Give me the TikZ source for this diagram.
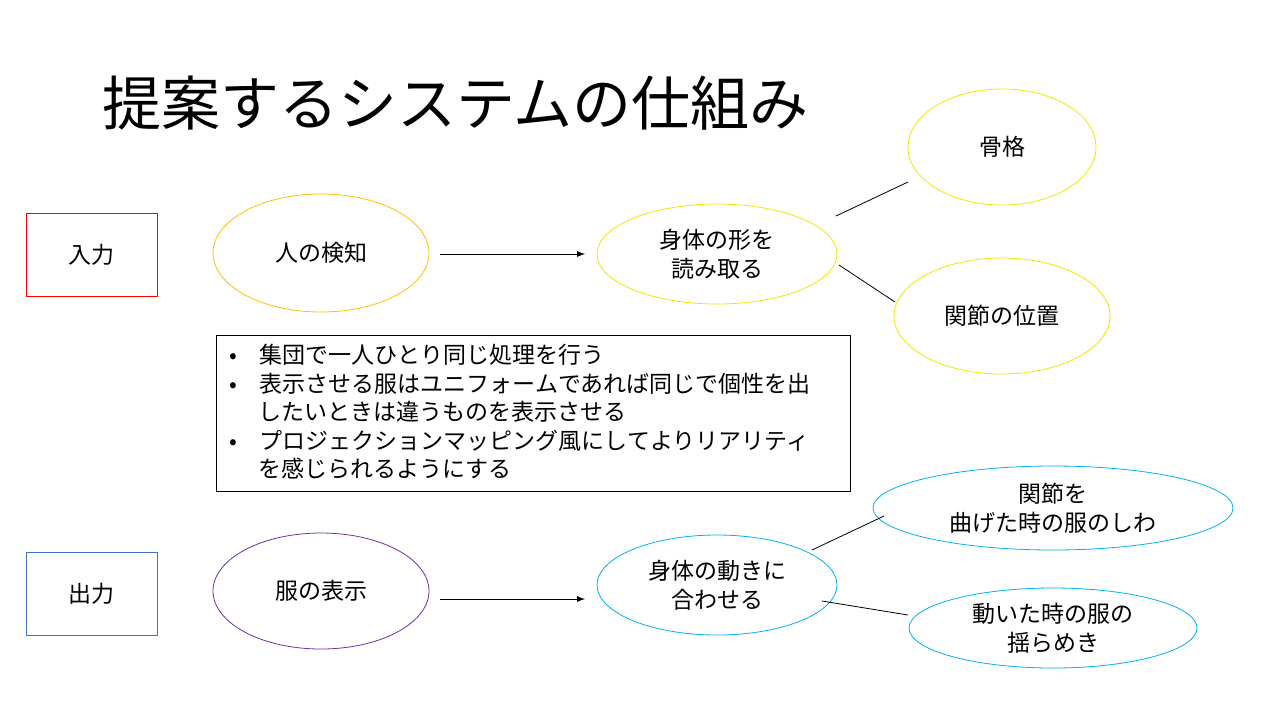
\documentclass[tikz,border=0pt]{standalone}
\usepackage{fontspec}
\setmainfont{Noto Sans CJK JP}
\usetikzlibrary{shapes.geometric}
\definecolor{cOrange}{HTML}{FFC000}
\definecolor{cYellow}{HTML}{F2E600}
\definecolor{cPurple}{HTML}{7030A0}
\definecolor{cCyan}{HTML}{00B0F0}
\definecolor{cBlue}{HTML}{4472C4}
\tikzset{>=latex,
  oval/.style={ellipse, draw, inner sep=0pt, align=center, font=\fontsize{11.5}{14.5}\selectfont},
  lab/.style={draw, minimum width=65.5pt, minimum height=41.5pt, font=\fontsize{11.5}{14}\selectfont}}
\begin{document}
\begin{tikzpicture}[x=0.5pt,y=-0.5pt]

    \useasboundingbox (0,0) rectangle (1280,720);

    \node[anchor=west, font=\fontsize{29.5}{33}\selectfont] (title) at (95,103) {提案するシステムの仕組み};

    \node[lab, draw=red] (in) at (91.5,254.5) {入力};
    \node[lab, draw=cBlue] (out) at (91.5,593.5) {出力};

    \node[oval, draw=cOrange, minimum width=108pt, minimum height=59pt] (detect) at (321,253) {人の検知};
    \node[oval, draw=cYellow, minimum width=120pt, minimum height=50pt] (shape) at (717,254) {身体の形を\\読み取る};
    \node[oval, draw=cYellow, minimum width=94pt, minimum height=58pt] (bone) at (1002,147) {骨格};
    \node[oval, draw=cYellow, minimum width=108pt, minimum height=58pt] (joint) at (1002,316) {関節の位置};

    \node[oval, draw=cPurple, minimum width=108pt, minimum height=58pt] (show) at (321,591) {服の表示};
    \node[oval, draw=cCyan, minimum width=120pt, minimum height=50pt] (move) at (717,585) {身体の動きに\\合わせる};
    \node[oval, draw=cCyan, minimum width=180pt, minimum height=42pt] (wrinkle) at (1053,508) {関節を\\曲げた時の服のしわ};
    \node[oval, draw=cCyan, minimum width=144pt, minimum height=40pt] (sway) at (1053,628) {動いた時の服の\\揺らめき};

    \draw[->] (detect) ++(119,1) coordinate (a1) -- ++(145,0) coordinate (a2);
    \draw[->] (show) ++(119,8) coordinate (b1) -- ++(145,0) coordinate (b2);

    % short links, kept apart from the ovals
    \coordinate (s1) at (836,216); \coordinate (s2) at (908,182);
    \coordinate (s3) at (839,265); \coordinate (s4) at (895,302);
    \coordinate (m1) at (812,550); \coordinate (m2) at (884,516);
    \coordinate (m3) at (822,601); \coordinate (m4) at (908,615);
    \draw (s1) -- (s2);
    \draw (s3) -- (s4);
    \draw (m1) -- (m2);
    \draw (m3) -- (m4);

    % notes
    \node[draw, anchor=north west, minimum width=317pt, minimum height=78pt, inner sep=0pt] (notes) at (216,335) {};
    \begin{scope}[font=\fontsize{11.5}{14}\selectfont]
        \node[anchor=west] (n1) at (222,355) {•\hspace{11.5pt}集団で一人ひとり同じ処理を行う};
        \node[anchor=west] (n2) at (222,383.5) {•\hspace{11.5pt}表示させる服はユニフォームであれば同じで個性を出};
        \node[anchor=west] (n3) at (251,412) {したいときは違うものを表示させる};
        \node[anchor=west] (n4) at (222,440.5) {•\hspace{11.5pt}プロジェクションマッピング風にしてよりリアリティ};
        \node[anchor=west] (n5) at (251,469) {を感じられるようにする};
    \end{scope}

\end{tikzpicture}
\end{document}
